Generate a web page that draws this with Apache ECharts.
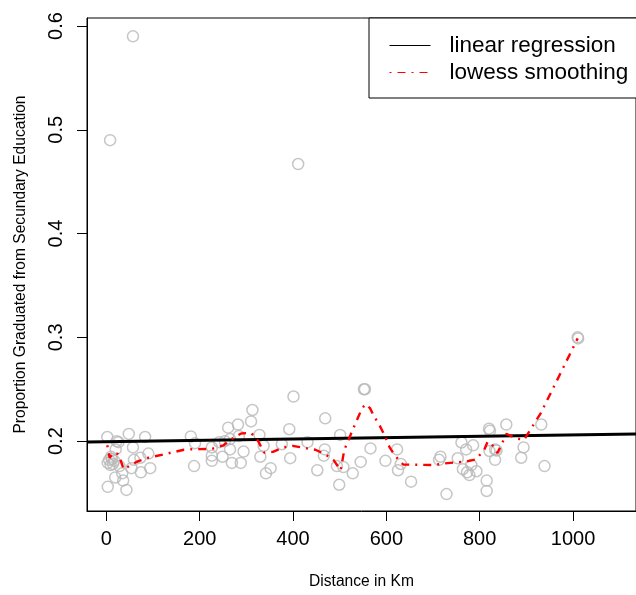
<!DOCTYPE html>
<html>
<head>
<meta charset="utf-8">
<script src="https://cdn.jsdelivr.net/npm/echarts@6/dist/echarts.min.js"></script>
<style>html,body{margin:0;padding:0;background:#fff}#c{width:636px;height:595px}</style>
</head>
<body>
<div id="c"></div>
<script>
// Scatter: distance (km) vs proportion graduated
const distKm = [2, 8, 57, 22, 26, 48, 83, 20, 57, 90, 73, 3, 6, 9, 12, 14, 17, 10, 59, 54, 74, 94, 34, 19, 36, 3, 43, 28,
  181, 190, 188, 226, 226, 226, 249, 269, 288, 265, 261, 282, 310, 313, 284, 294, 242, 254, 265, 328, 337, 330, 352, 342,
  392, 376, 394, 401, 411, 431, 469, 468, 466, 501, 452, 494, 508, 499, 528, 545, 552, 554, 566, 598, 623, 625, 631, 653,
  716, 713, 729, 753, 761, 771, 786, 764, 773, 778, 782, 793, 815, 815, 820, 822, 821, 833, 836, 833, 857, 894, 889, 932, 939, 1010, 1011];
const propGrad = [0.204, 0.490, 0.590, 0.200, 0.199, 0.207, 0.204, 0.192, 0.194, 0.188, 0.184, 0.179, 0.182, 0.177, 0.183, 0.178, 0.181, 0.185, 0.182, 0.174, 0.170, 0.174, 0.169, 0.165, 0.162, 0.156, 0.153, 0.176,
  0.2045, 0.198, 0.176, 0.194, 0.186, 0.181, 0.185, 0.179, 0.179, 0.192, 0.213, 0.216, 0.219, 0.230, 0.205, 0.190, 0.199, 0.200, 0.202, 0.206, 0.1955, 0.185, 0.174, 0.169,
  0.2115, 0.197, 0.1836, 0.243, 0.467, 0.199, 0.222, 0.192, 0.186, 0.206, 0.172, 0.176, 0.175, 0.158, 0.169, 0.180, 0.250, 0.250, 0.193, 0.181, 0.192, 0.172, 0.178, 0.161,
  0.185, 0.182, 0.149, 0.1835, 0.1987, 0.192, 0.196, 0.173, 0.170, 0.1673, 0.177, 0.171, 0.162, 0.152, 0.212, 0.210, 0.1905, 0.192, 0.191, 0.182, 0.216, 0.194, 0.184, 0.216, 0.176, 0.300, 0.299];

// Lowess smoothing curve
const lowessKm = [2, 7, 16, 25, 31, 37, 53, 67, 90, 130, 166, 190, 226, 251, 268, 289, 310, 325, 338, 357, 380, 399, 430, 448, 470, 487, 502, 510, 528, 547, 555, 565, 573, 586, 596, 607, 618, 628, 636, 653, 700, 725, 748, 773, 792, 810, 817, 826, 838, 850, 857, 880, 895, 931, 1010];
const lowessProp = [0.196, 0.184, 0.189, 0.1875, 0.181, 0.173, 0.177, 0.1805, 0.184, 0.188, 0.1917, 0.1923, 0.1925, 0.196, 0.202, 0.2074, 0.208, 0.2003, 0.189, 0.1897, 0.194, 0.1955, 0.193, 0.1917, 0.187, 0.1817, 0.172, 0.1917, 0.211, 0.2308, 0.2356, 0.2318, 0.2245, 0.2147, 0.2058, 0.194, 0.1865, 0.181, 0.1775, 0.1774, 0.177, 0.1785, 0.1795, 0.1805, 0.1824, 0.192, 0.1995, 0.197, 0.1885, 0.200, 0.207, 0.2025, 0.2013, 0.227, 0.299];

// Linear regression line endpoints (at plot edges)
const regKm = [-41.5, 1135];
const regProp = [0.1993, 0.2068];

const xTicks = [0, 200, 400, 600, 800, 1000];
const yTicks = [0.2, 0.3, 0.4, 0.5, 0.6];

const FONT = "'Liberation Sans', Arial, Helvetica, sans-serif";
const zip = (a, b) => a.map((v, i) => [v, b[i]]);

const chart = echarts.init(document.getElementById('c'));
chart.setOption({
  animation: false,
  backgroundColor: '#fff',
  textStyle: { fontFamily: FONT },
  grid: {
    left: 87, top: 18, width: 556, height: 494,
    show: true, borderColor: '#000', borderWidth: 1, backgroundColor: 'transparent'
  },
  legend: {
    orient: 'vertical',
    left: 369, top: 18,
    padding: [14, 40, 12, 20],
    itemGap: 0,
    itemWidth: 41, itemHeight: 27,
    borderColor: '#000', borderWidth: 1, borderRadius: 0,
    backgroundColor: '#fff',
    itemStyle: { opacity: 0, borderWidth: 0 },
    lineStyle: { width: 1 },
    textStyle: { fontSize: 22.5, color: '#000', fontFamily: FONT, padding: [0, 0, 0, 14], lineHeight: 27 },
    data: ['linear regression', 'lowess smoothing']
  },
  xAxis: {
    type: 'value', min: -41.5, max: 1135,
    name: 'Distance in Km', nameLocation: 'middle', nameGap: 63,
    nameTextStyle: { fontSize: 15.6, color: '#000', fontFamily: FONT },
    axisLine: { show: true, onZero: false, lineStyle: { color: '#000', width: 1 } },
    axisTick: { show: true, length: 10, lineStyle: { color: '#000' }, customValues: xTicks },
    axisLabel: { fontSize: 20, color: '#000', margin: 18, customValues: xTicks, fontFamily: FONT,
      formatter: v => String(v) },
    splitLine: { show: false }
  },
  yAxis: {
    type: 'value', min: 0.1327, max: 0.6077,
    name: 'Proportion Graduated from Secundary Education', nameLocation: 'middle', nameGap: 58,
    nameTextStyle: { fontSize: 15.6, color: '#000', fontFamily: FONT },
    axisLine: { show: true, onZero: false, lineStyle: { color: '#000', width: 1 } },
    axisTick: { show: true, length: 10, lineStyle: { color: '#000' }, customValues: yTicks },
    axisLabel: { fontSize: 20, color: '#000', margin: 21, rotate: 90, customValues: yTicks, fontFamily: FONT,
      formatter: v => v.toFixed(1) },
    splitLine: { show: false }
  },
  series: [
    {
      type: 'scatter', name: 'points', z: 1,
      symbol: 'circle', symbolSize: 11,
      itemStyle: { color: 'rgba(0,0,0,0)', borderColor: '#b8b8b8', borderWidth: 1.5 },
      data: zip(distKm, propGrad)
    },
    {
      type: 'line', name: 'linear regression', z: 3,
      symbol: 'none', showSymbol: false,
      lineStyle: { color: '#000', width: 3 },
      itemStyle: { color: '#000' },
      data: zip(regKm, regProp)
    },
    {
      type: 'line', name: 'lowess smoothing', z: 4,
      symbol: 'none', showSymbol: false,
      lineStyle: { color: '#ff0000', width: 2.4, type: [2, 6, 8, 6] },
      itemStyle: { color: '#ff0000' },
      data: zip(lowessKm, lowessProp)
    }
  ]
});
</script>
</body>
</html>
